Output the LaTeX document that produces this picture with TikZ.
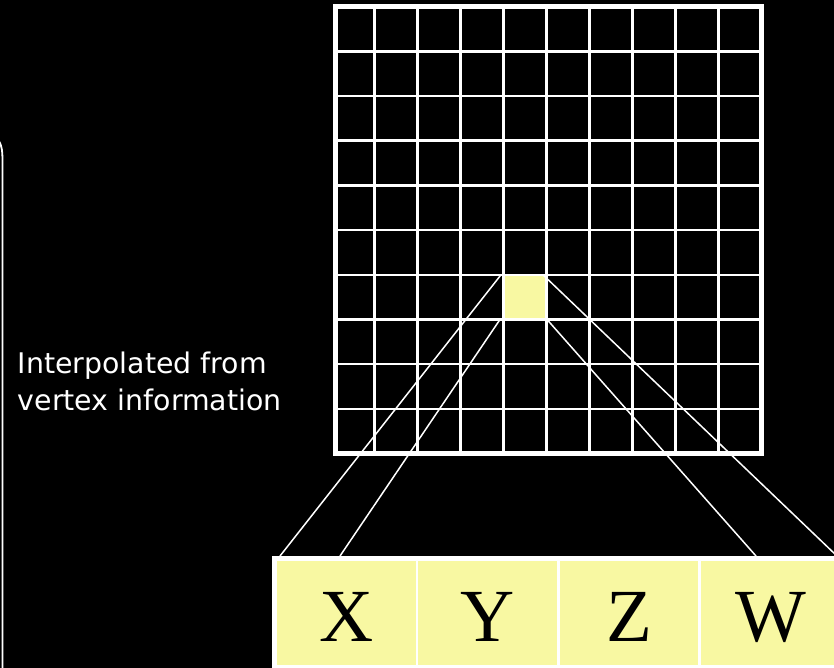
\documentclass[tikz,border=0pt]{standalone}
\usepackage{fontspec}
\setmainfont{Liberation Serif}
\newfontfamily\labelfont{DejaVu Sans}
\definecolor{pale}{RGB}{248,248,162}
\tikzset{
  gridline/.style={draw=white, line width=2.5pt},
  gridborder/.style={draw=white, line width=4.8pt},
  ray/.style={draw=white, line width=1.5pt},
  compbox/.style={draw=white, fill=pale, line width=2.7pt, minimum width=141.4pt,
    minimum height=107.3pt, inner sep=0pt, text height=57.2pt, text depth=0pt,
    font=\fontsize{75}{75}\selectfont, text=black},
  caption/.style={anchor=base west, inner sep=0pt, text=white,
    font=\labelfont\fontsize{28.4}{34}\selectfont},
}
\begin{document}
\begin{tikzpicture}[x=1pt,y=-1pt]
\fill[black] (0,0) rectangle (834,668);
\useasboundingbox (0,0) rectangle (834,668);
\clip (0,0) rectangle (834,668);
% highlighted cell
\node[fill=pale, minimum width=43pt, minimum height=44.7pt, inner sep=0pt] (cell) at (525,297.15) {};
% grid
\foreach \gx in {374.5,417.5,460.5,503.5,546.5,589.5,632.5,675.5,718.5}
  \draw[gridline] (\gx,6.6) -- (\gx,453.6);
\foreach \k in {1,...,9}
  \draw[gridline] (335.3,{6.6+44.7*\k}) -- (761.3,{6.6+44.7*\k});
\draw[gridborder] (335.3,6.6) rectangle (761.3,453.6);
% corners the rays start from
\coordinate (ctl) at (501,274.8);
\coordinate (cbl) at (500,319.5);
\coordinate (cbr) at (547,319.5);
\coordinate (ctr) at (543,274.8);
% ray ends on the box top
\coordinate (e1) at (280,556);
\coordinate (e2) at (340,556);
\coordinate (e3) at (756,556);
\coordinate (e4) at (837,556);
\draw[ray] (ctl) -- (e1);
\draw[ray] (cbl) -- (e2);
\draw[ray] (cbr) -- (e3);
\draw[ray] (ctr) -- (e4);
% component box
\node[compbox] (X) at (346.2,613.1) {X};
\node[compbox] (Y) at (487.6,613.1) {Y};
\node[compbox] (Z) at (629.0,613.1) {Z};
\node[compbox] (W) at (770.4,613.1) {W};
\draw[white, line width=5pt] (X.north west) rectangle (W.south east);
% caption
\node[caption] (cap1) at (17.7,373.3) {Interpolated from};
\node[caption] (cap2) at (17.7,410.7) {vertex information};
% bracket
\draw[white, line width=1.8pt] (-1,141) .. controls (2,146) and (2.5,152) .. (2.5,162) -- (2.5,670);
\end{tikzpicture}
\end{document}
